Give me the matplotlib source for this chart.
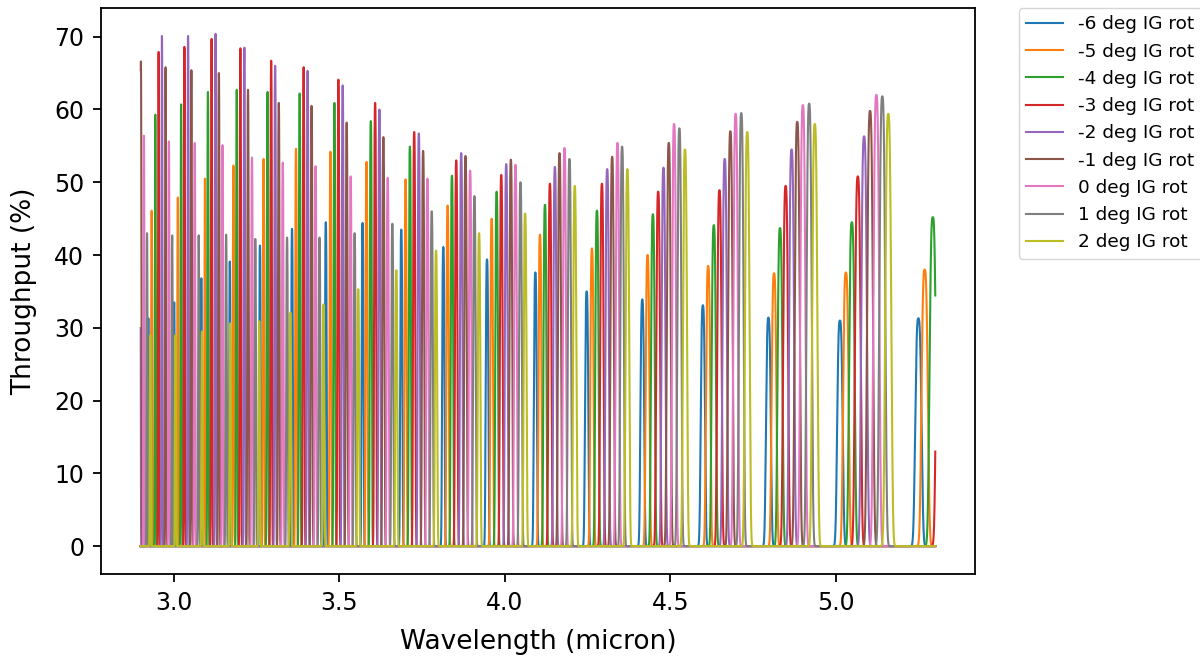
import numpy as np
import matplotlib
matplotlib.use("Agg")
import matplotlib.pyplot as plt

labels = ["-6 deg IG rot", "-5 deg IG rot", "-4 deg IG rot", "-3 deg IG rot",
          "-2 deg IG rot", "-1 deg IG rot", "0 deg IG rot", "1 deg IG rot",
          "2 deg IG rot"]

# peak centres (micron) and peak throughputs (%)
centers_m6 = [2.923, 3.001, 3.083, 3.169, 3.260, 3.357, 3.459, 3.570, 3.687,
              3.814, 3.946, 4.092, 4.247, 4.415, 4.598, 4.796, 5.012, 5.249]
heights_m6 = [31.3, 33.5, 36.8, 39.1, 41.3, 43.6, 44.5, 44.4, 43.5,
              41.1, 39.4, 37.6, 35.0, 33.9, 33.1, 31.4, 31.0, 31.3]

centers_m5 = [2.933, 3.012, 3.094, 3.180, 3.271, 3.369, 3.473, 3.582, 3.700,
              3.827, 3.960, 4.106, 4.263, 4.431, 4.614, 4.813, 5.030, 5.268]
heights_m5 = [46.1, 47.9, 50.5, 52.3, 53.2, 54.6, 54.2, 52.8, 50.4,
              46.8, 45.0, 42.8, 40.9, 40.0, 38.5, 37.5, 37.6, 38.0]

centers_m4 = [2.944, 3.022, 3.103, 3.190, 3.283, 3.380, 3.485, 3.595, 3.713,
              3.840, 3.975, 4.121, 4.278, 4.447, 4.631, 4.831, 5.048, 5.2925]
heights_m4 = [59.3, 60.7, 62.4, 62.7, 62.4, 62.2, 60.9, 58.4, 54.9,
              50.9, 48.7, 46.9, 46.1, 45.6, 44.1, 43.7, 44.5, 45.2]

centers_m3 = [2.954, 3.032, 3.114, 3.201, 3.294, 3.392, 3.497, 3.608, 3.726,
              3.853, 3.989, 4.136, 4.293, 4.463, 4.648, 4.848, 5.066, 5.313]
heights_m3 = [67.9, 68.6, 69.7, 68.4, 66.7, 65.8, 64.1, 60.9, 56.9,
              53.0, 51.0, 49.8, 49.8, 48.7, 48.9, 49.5, 50.8, 51.0]

centers_m2 = [2.8982, 2.964, 3.043, 3.126, 3.213, 3.306, 3.404, 3.510, 3.621,
              3.740, 3.868, 4.004, 4.151, 4.309, 4.479, 4.664, 4.866, 5.085]
heights_m2 = [70.0, 70.1, 70.1, 70.4, 68.5, 66.0, 65.3, 63.3, 60.0,
              56.7, 54.0, 52.5, 52.1, 51.8, 52.0, 53.2, 54.5, 56.3]

centers_m1 = [2.9005, 2.975, 3.053, 3.136, 3.224, 3.317, 3.416, 3.522, 3.633,
              3.753, 3.881, 4.018, 4.165, 4.324, 4.495, 4.681, 4.883, 5.103]
heights_m1 = [66.6, 65.8, 65.4, 65.0, 62.7, 60.9, 60.5, 58.2, 56.2,
              54.3, 53.6, 53.1, 54.0, 53.5, 55.4, 57.0, 58.3, 59.8]

centers_0 = [2.9095, 2.985, 3.063, 3.147, 3.236, 3.329, 3.428, 3.534, 3.646,
             3.766, 3.895, 4.032, 4.180, 4.340, 4.511, 4.697, 4.900, 5.122]
heights_0 = [56.4, 55.6, 55.4, 55.1, 53.4, 52.7, 52.2, 50.8, 50.6,
             50.5, 51.6, 52.4, 54.7, 55.4, 58.0, 59.4, 60.6, 62.0]

centers_p1 = [2.919, 2.995, 3.075, 3.158, 3.246, 3.342, 3.440, 3.546, 3.660,
              3.779, 3.908, 4.047, 4.195, 4.354, 4.527, 4.714, 4.919, 5.140]
heights_p1 = [43.0, 42.7, 42.7, 42.8, 42.2, 42.4, 42.4, 43.0, 44.3,
              46.0, 48.1, 50.0, 53.2, 54.9, 57.4, 59.5, 60.8, 61.8]

centers_p2 = [2.929, 3.005, 3.085, 3.170, 3.258, 3.352, 3.452, 3.557, 3.672,
              3.792, 3.922, 4.061, 4.211, 4.370, 4.544, 4.732, 4.936, 5.158]
heights_p2 = [29.0, 29.0, 29.5, 30.6, 30.9, 32.1, 33.2, 35.3, 37.9,
              40.6, 43.0, 45.7, 49.5, 51.8, 54.5, 56.9, 58.0, 59.4]

series = [(centers_m6, heights_m6), (centers_m5, heights_m5),
          (centers_m4, heights_m4), (centers_m3, heights_m3),
          (centers_m2, heights_m2), (centers_m1, heights_m1),
          (centers_0, heights_0), (centers_p1, heights_p1),
          (centers_p2, heights_p2)]

wl_min, wl_max = 2.9, 5.3
wl = np.linspace(wl_min, wl_max, 24001)


def transmission(centers, heights):
    y = np.zeros_like(wl)
    for c, h in zip(centers, heights):
        w = 0.0113 * (c / 5.25) ** 3
        y += h * np.exp(-np.abs((wl - c) / w) ** 3)
    return y


fig = plt.figure(figsize=(12, 6.59), dpi=100)
ax = fig.add_axes([101 / 1200, 1 - 574 / 659, 874 / 1200, 566 / 659])

for lab, (c, h) in zip(labels, series):
    ax.plot(wl, transmission(c, h), lw=1.5, label=lab)

ax.set_xlim(2.78, 5.42)
ax.set_ylim(-3.83, 73.94)
ax.set_xticks([3.0, 3.5, 4.0, 4.5, 5.0])
ax.set_yticks([0, 10, 20, 30, 40, 50, 60, 70])
ax.tick_params(labelsize=17, length=6, width=1.3, pad=6)
for s in ax.spines.values():
    s.set_linewidth(1.3)
ax.set_xlabel("Wavelength (micron)", fontsize=19, labelpad=10)
ax.set_ylabel("Throughput (%)", fontsize=19, labelpad=12)
ax.legend(bbox_to_anchor=(1.05, 1), loc="upper left", borderaxespad=0,
          fontsize=13.3)

fig.savefig("out.png", dpi=100)
